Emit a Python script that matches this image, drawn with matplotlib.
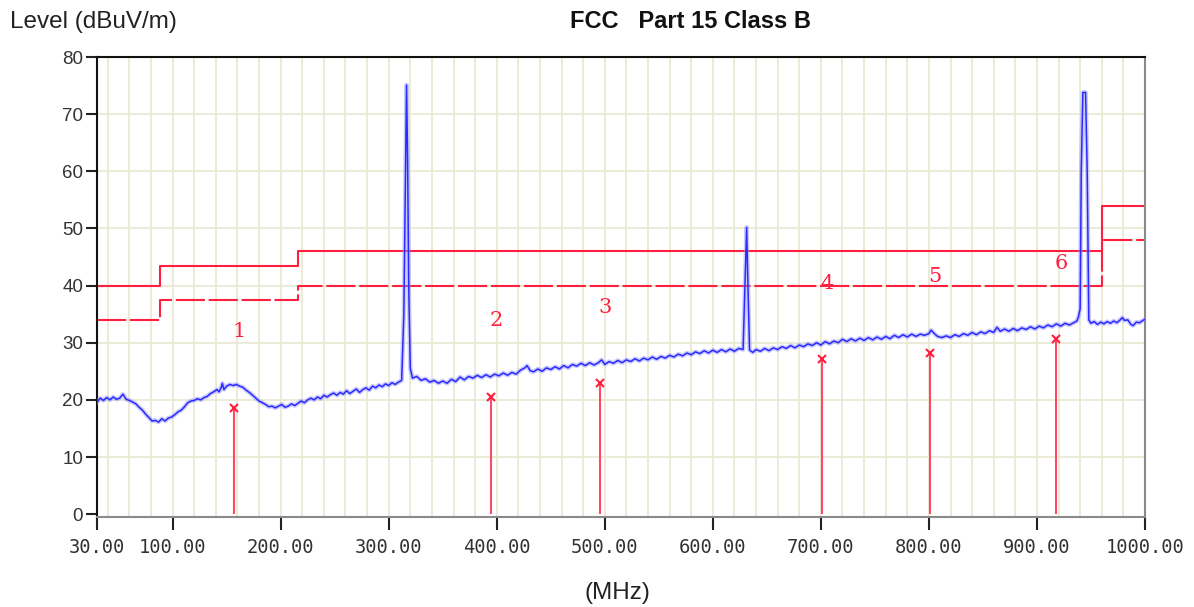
import matplotlib
matplotlib.use("Agg")
import matplotlib.pyplot as plt

freq = [30, 33, 36, 39, 42, 45, 48, 51, 54, 57,
        60, 63, 66, 69, 72, 75, 78, 81, 84, 87,
        90, 93, 96, 99, 102, 105, 108, 111, 114, 117,
        120, 123, 126, 129, 132, 135, 138, 141, 143, 145,
        146, 147.5, 150, 153, 156, 159, 162, 165, 168, 171,
        174, 177, 180, 183, 186, 189, 192, 195, 198, 201,
        204, 207, 210, 213, 216, 219, 222, 225, 228, 231,
        234, 237, 240, 243, 246, 249, 252, 255, 258, 261,
        264, 267, 270, 273, 276, 279, 282, 285, 288, 291,
        294, 297, 300, 303, 306, 309, 312, 314, 315.5, 316.5,
        317.5, 318.5, 320, 322, 326, 330, 334, 338, 342, 346,
        350, 354, 358, 362, 366, 370, 374, 378, 382, 386,
        390, 394, 398, 402, 406, 410, 414, 418, 422, 426,
        428, 431, 434, 438, 442, 446, 450, 454, 458, 462,
        466, 470, 474, 478, 482, 486, 490, 494, 497, 500,
        504, 508, 512, 516, 520, 524, 528, 532, 536, 540,
        544, 548, 552, 556, 560, 564, 568, 572, 576, 580,
        584, 588, 592, 596, 600, 604, 608, 612, 616, 620,
        624, 628, 630, 631.3, 632.5, 634, 637, 640, 644, 648,
        652, 656, 660, 664, 668, 672, 676, 680, 684, 688,
        692, 696, 700, 704, 708, 712, 716, 720, 724, 728,
        732, 736, 740, 744, 748, 752, 756, 760, 764, 768,
        772, 776, 780, 784, 788, 792, 796, 800, 802, 805,
        808, 812, 816, 820, 824, 828, 832, 836, 840, 844,
        848, 852, 856, 860, 863, 866, 870, 874, 878, 882,
        886, 890, 894, 898, 902, 906, 910, 914, 918, 922,
        926, 930, 934, 937, 938.5, 940, 941, 942.5, 945, 946.5,
        948, 950, 953, 956, 959, 962, 965, 968, 971, 974,
        977, 979, 981, 984, 987, 989, 992, 995, 998, 1000]
level = [19.6, 20.3, 19.9, 20.4, 20.0, 20.5, 20.1, 20.3, 21.0, 20.1,
         19.9, 19.6, 19.3, 18.7, 18.2, 17.5, 16.9, 16.3, 16.4, 16.1,
         16.7, 16.3, 16.8, 17.0, 17.4, 17.9, 18.2, 18.8, 19.5, 19.8,
         19.9, 20.2, 20.0, 20.4, 20.6, 21.1, 21.4, 21.8, 21.4, 22.2,
         22.9, 21.8, 22.4, 22.7, 22.5, 22.7, 22.4, 22.2, 21.7, 21.3,
         20.8, 20.3, 19.8, 19.5, 19.2, 18.8, 18.9, 18.6, 18.9, 19.2,
         18.7, 18.9, 19.3, 19.0, 19.4, 19.8, 19.5, 20.0, 20.3, 20.0,
         20.5, 20.2, 20.8, 20.5, 20.9, 21.2, 20.8, 21.3, 21.0, 21.6,
         21.1, 21.5, 21.9, 21.3, 21.8, 22.1, 21.7, 22.4, 22.1, 22.6,
         22.3, 22.8, 22.5, 23.0, 22.7, 23.1, 23.4, 35.0, 60.0, 75.1,
         62.0, 40.0, 25.5, 23.8, 24.1, 23.4, 23.7, 23.1, 23.4, 22.9,
         23.3, 22.9, 23.6, 23.2, 24.0, 23.5, 24.1, 23.8, 24.3, 23.9,
         24.4, 24.0, 24.5, 24.2, 24.7, 24.3, 24.8, 24.5, 25.2, 25.6,
         26.0, 25.1, 24.9, 25.4, 25.0, 25.6, 25.3, 25.8, 25.4, 26.0,
         25.6, 26.2, 25.9, 26.4, 26.0, 26.5, 26.1, 26.5, 27.0, 26.2,
         26.7, 26.4, 26.9, 26.5, 27.0, 26.7, 27.2, 26.8, 27.3, 27.0,
         27.5, 27.1, 27.6, 27.3, 27.8, 27.5, 28.0, 27.7, 28.2, 27.9,
         28.4, 28.1, 28.6, 28.2, 28.7, 28.3, 28.8, 28.4, 28.9, 28.5,
         29.0, 28.8, 42.0, 50.2, 40.0, 28.7, 28.3, 28.8, 28.5, 29.0,
         28.6, 29.1, 28.8, 29.3, 29.0, 29.5, 29.1, 29.6, 29.3, 29.8,
         29.5, 30.0, 29.6, 30.2, 29.8, 30.3, 30.0, 30.6, 30.2, 30.7,
         30.3, 30.8, 30.4, 30.9, 30.5, 31.0, 30.6, 31.1, 30.7, 31.3,
         30.9, 31.4, 31.0, 31.5, 31.1, 31.5, 31.3, 31.6, 32.2, 31.6,
         31.1, 30.9, 31.2, 30.9, 31.4, 31.1, 31.6, 31.3, 31.8, 31.4,
         31.9, 31.6, 32.1, 31.8, 32.7, 32.0, 32.4, 32.0, 32.5, 32.1,
         32.6, 32.3, 32.8, 32.4, 32.9, 32.6, 33.1, 32.8, 33.3, 32.9,
         33.4, 33.1, 33.5, 33.8, 34.6, 36.0, 60.0, 73.8, 73.8, 60.0,
         34.0, 33.4, 33.7, 33.2, 33.6, 33.3, 33.7, 33.4, 33.8, 33.5,
         34.0, 34.4, 33.9, 34.0, 33.2, 33.0, 33.6, 33.5, 33.9, 34.1]

# FCC Part 15 Class B limit and the -6 dB margin line
limit_freq = [30, 88, 216, 960, 1000]
limit_qp = [40, 43.5, 46, 54, 54]
limit_margin = [34, 37.5, 40, 48, 48]

# final-measurement markers
mark_freq = [156.8, 394.7, 495.6, 701.0, 801.0, 917.6]
mark_level = [18.6, 20.5, 22.9, 27.1, 28.2, 30.6]
mark_names = ["1", "2", "3", "4", "5", "6"]

xticks = [30, 100, 200, 300, 400, 500, 600, 700, 800, 900, 1000]
xtick_labels = ["30.00", "100.00", "200.00", "300.00", "400.00", "500.00",
                "600.00", "700.00", "800.00", "900.00", "1000.00"]
yticks = [0, 10, 20, 30, 40, 50, 60, 70, 80]

red = "#ff2040"
grid_c = "#ebe9d4"

fig = plt.figure(figsize=(11.94, 6.07), dpi=100)
ax = fig.add_axes([97 / 1194, 90 / 607, 1048 / 1194, 460 / 607])

# grid
for g in range(40, 1000, 20):
    ax.axvline(g, color=grid_c, lw=1.3, zorder=0)
for g in yticks[1:-1]:
    ax.axhline(g, color=grid_c, lw=1.3, zorder=0)

# limits
ax.plot(limit_freq, limit_qp, drawstyle="steps-post", color=red, lw=1.5, zorder=2)
ax.plot(limit_freq, limit_margin, drawstyle="steps-post", color=red, lw=1.5,
        linestyle=(0, (14, 1.8)), zorder=2)

# trace with soft halo
ax.plot(freq, level, color="#8c8cff", lw=3.2, alpha=0.45, zorder=3)
ax.plot(freq, level, color="#2a2aff", lw=1.1, zorder=4)

# markers
for f, v, n in zip(mark_freq, mark_level, mark_names):
    ax.vlines(f, 0, v, color="#ff4868", lw=1.5, zorder=5)
    ax.plot(f, v, marker="x", color=red, ms=6, mew=1.5, zorder=6)
    ax.text(f + 4.5, v + 13.3, n, color=red, fontsize=15, family="DejaVu Serif",
            ha="center", va="center", zorder=6)

ax.set_xlim(30, 1000)
ax.set_ylim(-0.5, 80)
ax.set_xticks(xticks)
ax.set_xticklabels(xtick_labels, family="DejaVu Sans Mono", fontsize=13.5, color="#333333")
ax.set_yticks(yticks)
ax.set_yticklabels([str(t) for t in yticks], family="Liberation Sans", fontsize=13.5,
                   color="#333333")
ax.tick_params(axis="x", direction="out", length=9, width=1.5, pad=6, color="#222222")
ax.tick_params(axis="y", direction="out", length=8, width=1.5, pad=2, color="#222222")

ax.spines["left"].set_color("#111111")
ax.spines["top"].set_color("#111111")
ax.spines["right"].set_color("#8a8a8a")
ax.spines["bottom"].set_color("#8a8a8a")
for s in ax.spines.values():
    s.set_linewidth(1.5)

fig.text(10 / 1194, 1 - 22 / 607, "Level (dBuV/m)", fontsize=17.5, family="Liberation Sans",
         color="#222222", ha="left", va="center")
fig.text(691 / 1194, 1 - 22 / 607, "FCC   Part 15 Class B", fontsize=17,
         family="Liberation Sans", weight="bold", color="#111111", ha="center", va="center")
fig.text(617 / 1194, 1 - 593 / 607, "(MHz)", fontsize=17.5, family="Liberation Sans",
         color="#222222", ha="center", va="center")

fig.savefig("out.png", dpi=100)
